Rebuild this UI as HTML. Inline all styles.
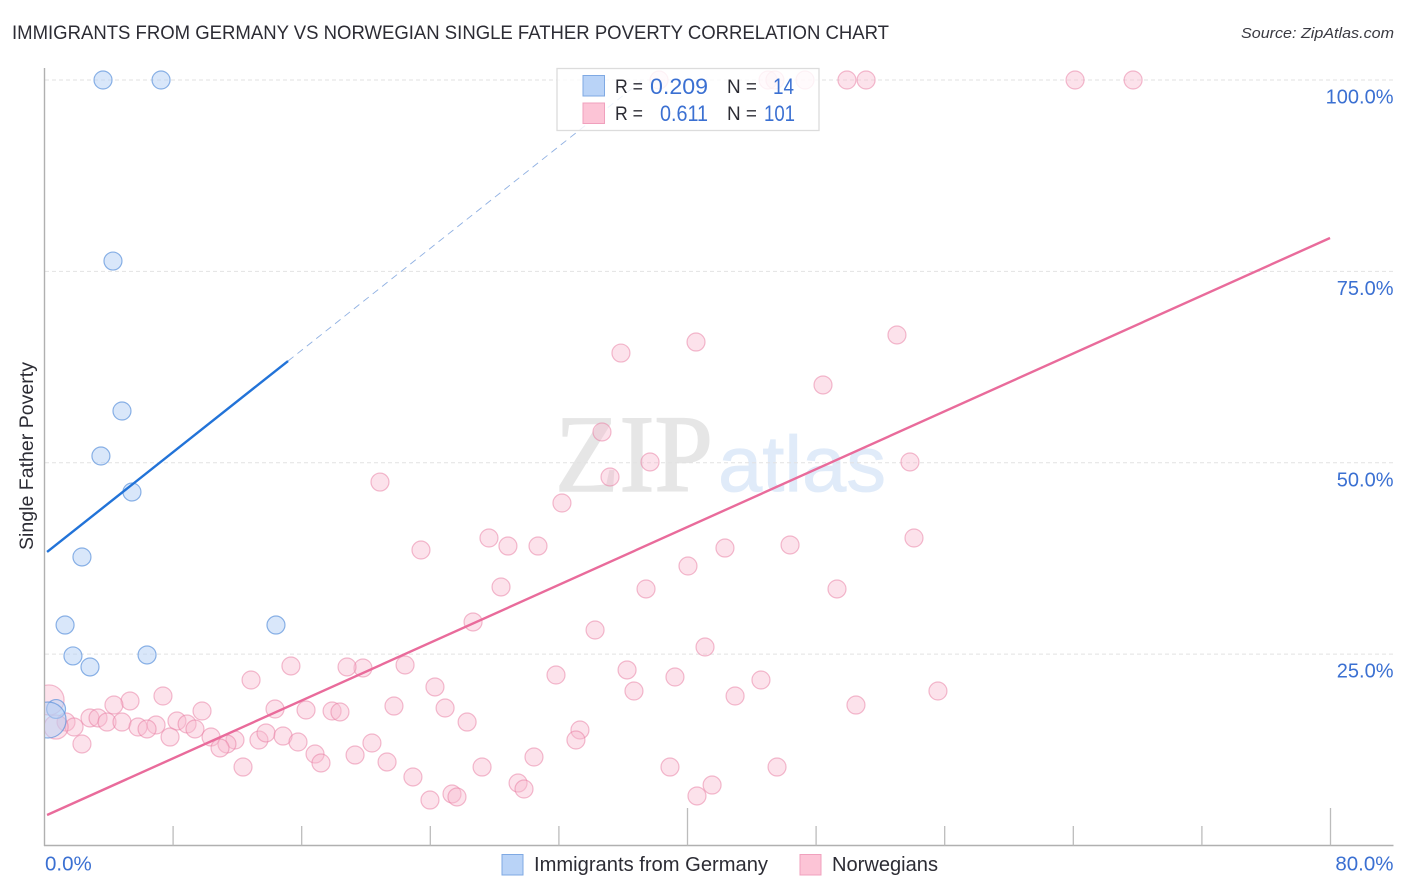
<!DOCTYPE html>
<html lang="en">
<head>
<meta charset="utf-8">
<title>Immigrants from Germany vs Norwegian Single Father Poverty Correlation Chart</title>
<style>
html,body{margin:0;padding:0;background:#fff;}
body{width:1406px;height:892px;overflow:hidden;}
svg{display:block;font-family:"Liberation Sans",sans-serif;}
</style>
</head>
<body>
<svg id="chart" width="1406" height="892" viewBox="0 0 1406 892" xmlns="http://www.w3.org/2000/svg">
  <defs>
    <clipPath id="plot-clip"><rect x="45" y="50" width="1361" height="796"/></clipPath>
  </defs>
  <rect x="0" y="0" width="1406" height="892" fill="#fff"/>
  <text x="12" y="39" font-size="19" fill="#2c2c34" textLength="877" lengthAdjust="spacingAndGlyphs">IMMIGRANTS FROM GERMANY VS NORWEGIAN SINGLE FATHER POVERTY CORRELATION CHART</text>
  <text x="1241" y="38" font-size="15" font-style="italic" fill="#3a3a42" textLength="153" lengthAdjust="spacingAndGlyphs">Source: ZipAtlas.com</text>
  <g>
    <text x="555" y="491" font-family="'Liberation Serif',serif" font-size="110" fill="#e6e6e6" stroke="#e6e6e6" stroke-width="1.5" textLength="158" lengthAdjust="spacingAndGlyphs">ZIP</text>
    <text x="718" y="491" font-size="79" fill="#e0ebf9" stroke="#e0ebf9" stroke-width="0.8" textLength="168" lengthAdjust="spacingAndGlyphs">atlas</text>
  </g>
  <g id="grid"></g>
  <g id="axes"></g>
  <g id="marks" clip-path="url(#plot-clip)"></g>
  <g id="lines"></g>
  <g>
    <rect x="557" y="68.5" width="262" height="62" fill="#fff" fill-opacity="0.82" stroke="#dcdcdc" stroke-width="1.3"/>
    <rect x="583" y="75.5" width="21.5" height="20.5" fill="#b9d3f7" stroke="#7fa9e3" stroke-width="1"/>
    <rect x="583" y="103" width="21.5" height="20.5" fill="#fcc4d6" stroke="#f0a0bd" stroke-width="1"/>
    <text x="615" y="93" font-size="19" fill="#2c2c34" textLength="28" lengthAdjust="spacingAndGlyphs">R =</text>
    <text x="650" y="94" font-size="22" fill="#3b70d2" textLength="58" lengthAdjust="spacingAndGlyphs">0.209</text>
    <text x="727" y="93" font-size="19" fill="#2c2c34" textLength="30" lengthAdjust="spacingAndGlyphs">N =</text>
    <text x="773" y="94" font-size="22" fill="#3b70d2" textLength="21" lengthAdjust="spacingAndGlyphs">14</text>
    <text x="615" y="120" font-size="19" fill="#2c2c34" textLength="28" lengthAdjust="spacingAndGlyphs">R =</text>
    <text x="660" y="121" font-size="22" fill="#3b70d2" textLength="48" lengthAdjust="spacingAndGlyphs">0.611</text>
    <text x="727" y="120" font-size="19" fill="#2c2c34" textLength="30" lengthAdjust="spacingAndGlyphs">N =</text>
    <text x="764" y="121" font-size="22" fill="#3b70d2" textLength="31" lengthAdjust="spacingAndGlyphs">101</text>
  </g>
  <text transform="translate(33,550) rotate(-90)" font-size="19" fill="#2c2c34" textLength="188" lengthAdjust="spacingAndGlyphs">Single Father Poverty</text>
  <g>
    <rect x="502" y="854.5" width="21" height="20.5" fill="#b9d3f7" stroke="#7fa9e3" stroke-width="1"/>
    <text x="534" y="871" font-size="20" fill="#2c2c34" textLength="234" lengthAdjust="spacingAndGlyphs">Immigrants from Germany</text>
    <rect x="800" y="854.5" width="21" height="20.5" fill="#fcc4d6" stroke="#f0a0bd" stroke-width="1"/>
    <text x="832" y="871" font-size="20" fill="#2c2c34" textLength="106" lengthAdjust="spacingAndGlyphs">Norwegians</text>
  </g>
</svg>
<script>
// Data (values in percent)
const germanyX = [3.64, 7.25, 4.26, 4.82, 3.51, 5.44, 2.33, 1.28, 14.40, 1.77, 6.38, 2.83, 0.72, 0.22];
const germanyY = [100, 100, 76.35, 56.76, 50.88, 46.18, 37.69, 28.80, 28.80, 24.76, 24.89, 23.32, 17.83, 16.39];
const germanyWeight = [1, 1, 1, 1, 1, 1, 1, 1, 1, 1, 1, 1, 1.1, 4];

const norwegianX = [38.23, 45.01, 45.44, 47.31, 49.92, 51.11, 64.11, 67.72, 35.86, 40.53, 53.03, 48.43, 34.68, 37.67, 53.84, 35.18, 20.87, 32.19, 54.09, 27.65, 28.83, 30.70, 23.42, 42.33, 46.38, 40.03, 28.40, 37.42, 49.30, 26.66, 34.25, 41.09, 22.43, 19.81, 18.82, 15.33, 36.24, 31.82, 39.22, 12.85, 44.57, 24.29, 36.67, 55.58, 42.96, 7.37, 5.32, 4.32, 21.74, 50.48, 24.92, 14.34, 16.27, 9.80, 17.89, 18.38, 2.83, 3.33, 1.34, 3.89, 4.82, 8.24, 6.94, 8.87, 26.29, 1.84, 0.72, 5.82, 6.38, 9.36, 33.31, 10.36, 7.81, 33.06, 11.85, 13.34, 13.78, 14.84, 11.35, 10.92, 15.77, 2.33, 20.37, 16.83, 19.32, 30.45, 21.31, 17.20, 12.35, 27.22, 38.91, 45.57, 22.92, 29.46, 29.83, 41.53, 25.35, 25.66, 40.59, 23.98, 0.28];
const norwegianY = [100, 100, 100, 100, 100, 100, 100, 100, 64.33, 65.77, 66.69, 60.16, 54.02, 50.10, 50.10, 48.14, 47.48, 44.74, 40.17, 40.17, 39.12, 39.12, 38.60, 38.86, 39.26, 36.51, 33.77, 33.51, 33.51, 29.20, 28.15, 25.93, 23.58, 23.19, 23.32, 23.45, 22.93, 22.27, 22.01, 21.62, 21.62, 20.71, 20.18, 20.18, 19.53, 19.53, 18.88, 18.35, 18.22, 18.35, 17.96, 17.83, 17.70, 17.57, 17.57, 17.44, 16.66, 16.66, 16.13, 16.13, 16.13, 16.26, 15.74, 15.87, 16.13, 15.48, 15.48, 15.48, 15.22, 15.22, 15.09, 14.17, 14.17, 13.78, 13.78, 13.78, 14.70, 14.30, 13.26, 12.74, 13.52, 13.26, 13.39, 11.95, 11.82, 11.56, 10.91, 10.78, 10.25, 10.25, 10.25, 10.25, 8.95, 8.16, 7.38, 7.90, 6.73, 6.34, 6.47, 5.94, 19.01];
const norwegianLargeIndex = [66, 100];
const norwegianLargeWeight = [1.8, 2.8];

const germanyTrend = {intercept: 38.08, slope: 1.664, start: 0.16, solidEnd: 15.15, dashEnd: 37.3};
const norwegianTrend = {intercept: 3.83, slope: 0.9445, start: 0.16, end: 79.97};

const yTickValues = [25, 50, 75, 100];
const yTickLabels = ['25.0%', '50.0%', '75.0%', '100.0%'];
const xTickValues = [8, 16, 24, 32, 40, 48, 56, 64, 72, 80];
const xMajorTicks = [40, 80];
const xEndValues = [0, 80];
const xEndLabels = ['0.0%', '80.0%'];

// Axis functions
const xScale = v => 44.5 + v * 16.075;
const yScale = v => 845.5 - v * 7.655;

const NS = 'http://www.w3.org/2000/svg';
function make(tag, attrs, parent) {
  const el = document.createElementNS(NS, tag);
  for (const k in attrs) el.setAttribute(k, attrs[k]);
  parent.appendChild(el);
  return el;
}
const grid = document.getElementById('grid');
const axes = document.getElementById('axes');
const marks = document.getElementById('marks');
const lines = document.getElementById('lines');

yTickValues.forEach((v, i) => {
  const g = make('line', {x1: 45, x2: 1393, y1: yScale(v), y2: yScale(v), stroke: '#e2e2e2', 'stroke-width': 1, 'stroke-dasharray': '4 3'}, grid);
  
  
  const t = make('text', {x: 1393.5, y: yScale(v) + 23.5, 'text-anchor': 'end', 'font-size': 20, fill: '#3b70d2'}, axes);
  t.textContent = yTickLabels[i];
  
  
});

const yAxisLine = make('line', {x1: 44.5, x2: 44.5, y1: 68, y2: 846, stroke: '#b0b0b0', 'stroke-width': 1.4}, axes);


const xAxisLine = make('line', {x1: 44, x2: 1393.5, y1: 845.5, y2: 845.5, stroke: '#b0b0b0', 'stroke-width': 1.4}, axes);



xTickValues.forEach(v => {
  const top = xMajorTicks.includes(v) ? 808 : 826;
  const tick = make('line', {x1: xScale(v), x2: xScale(v), y1: top, y2: 845.5, stroke: '#bcbcbc', 'stroke-width': 1.3}, axes);
  
  
});

xEndValues.forEach((v, i) => {
  const isLast = i === xEndValues.length - 1;
  const t = make('text', {x: isLast ? xScale(v) + 63 : xScale(v) + 0.5, y: 870.5, 'text-anchor': isLast ? 'end' : 'start', 'font-size': 20.5, fill: '#3b70d2'}, axes);
  t.textContent = xEndLabels[i];
  
  
});

const baseRadius = 9;
norwegianX.forEach((v, i) => {
  const li = norwegianLargeIndex.indexOf(i);
  const w = li >= 0 ? norwegianLargeWeight[li] : 1;
  const c = make('circle', {cx: xScale(v), cy: yScale(norwegianY[i]), r: baseRadius * Math.sqrt(w), fill: '#f8bbd0', 'fill-opacity': 0.42, stroke: '#e8799f', 'stroke-opacity': 0.5, 'stroke-width': 1.2}, marks);
  
  
});
germanyX.forEach((v, i) => {
  const c = make('circle', {cx: xScale(v), cy: yScale(germanyY[i]), r: baseRadius * Math.sqrt(germanyWeight[i]), fill: '#b3cff5', 'fill-opacity': 0.5, stroke: '#5c93dc', 'stroke-opacity': 0.7, 'stroke-width': 1.2}, marks);
  
  
});

const gy = v => germanyTrend.intercept + germanyTrend.slope * v;
const ny = v => norwegianTrend.intercept + norwegianTrend.slope * v;

const dash = make('line', {x1: xScale(germanyTrend.solidEnd), y1: yScale(gy(germanyTrend.solidEnd)), x2: xScale(germanyTrend.dashEnd), y2: yScale(gy(germanyTrend.dashEnd)), stroke: '#8fb0e2', 'stroke-width': 0.9, 'stroke-dasharray': '7 5'}, lines);


const solid = make('line', {x1: xScale(germanyTrend.start), y1: yScale(gy(germanyTrend.start)), x2: xScale(germanyTrend.solidEnd), y2: yScale(gy(germanyTrend.solidEnd)), stroke: '#2273d8', 'stroke-width': 2.4}, lines);


const pinkLine = make('line', {x1: xScale(norwegianTrend.start), y1: yScale(ny(norwegianTrend.start)), x2: xScale(norwegianTrend.end), y2: yScale(ny(norwegianTrend.end)), stroke: '#e96b9b', 'stroke-width': 2.4}, lines);


</script>
</body>
</html>
